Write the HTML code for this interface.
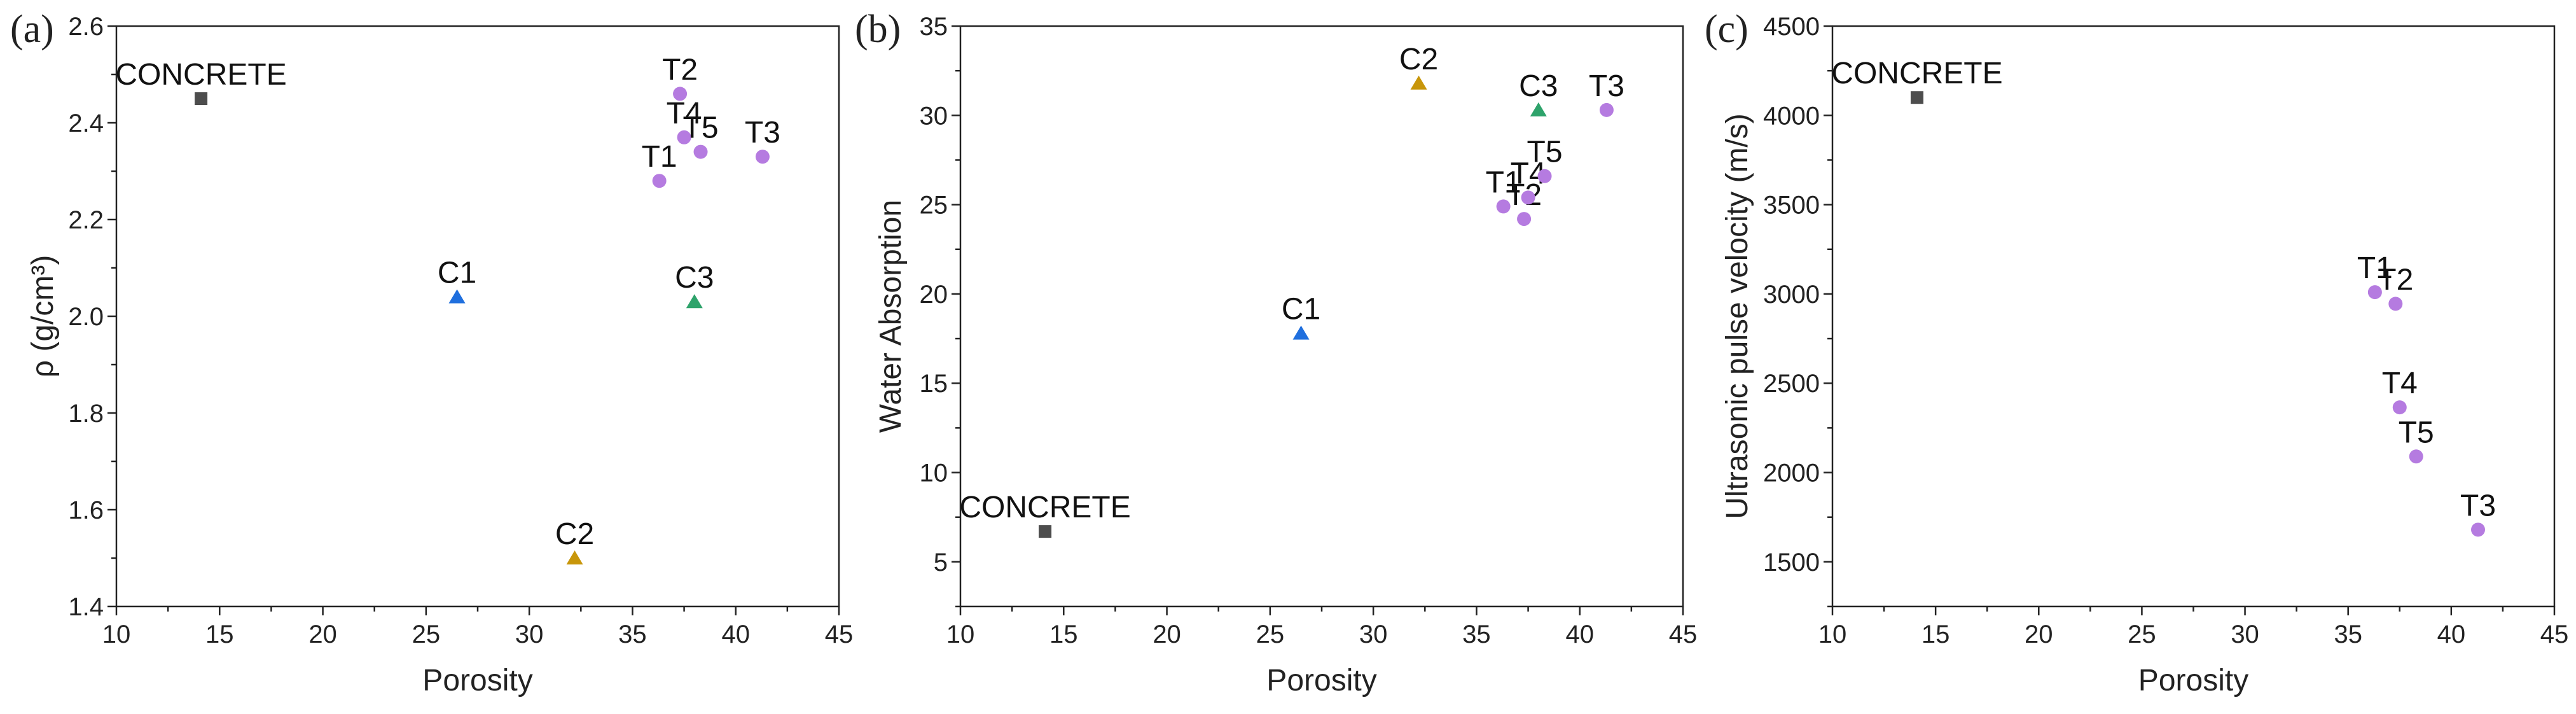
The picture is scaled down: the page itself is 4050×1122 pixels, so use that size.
<!DOCTYPE html>
<html><head><meta charset="utf-8">
<style>
html,body{margin:0;padding:0;background:#fff;}
svg{display:block;font-family:"Liberation Sans",sans-serif;}
</style></head>
<body>
<svg id="fig" width="4050" height="1122" viewBox="0 0 4050 1122" xmlns="http://www.w3.org/2000/svg"></svg>
<script>
const labels = ["CONCRETE","C1","C2","C3","T1","T2","T3","T4","T5"];
const porosity = [14.1,26.5,32.2,38.0,36.3,37.3,41.3,37.5,38.3];
const density = [2.45,2.04,1.50,2.03,2.28,2.46,2.33,2.37,2.34];
const waterAbs = [6.7,17.8,31.8,30.3,24.9,24.2,30.3,25.4,26.6];
const upvLabels = ["CONCRETE","T1","T2","T3","T4","T5"];
const upvPorosity = [14.1,36.3,37.3,41.3,37.5,38.3];
const upv = [4100,3010,2945,1680,2365,2090];
const xTicks = [10,15,20,25,30,35,40,45];
const yTicksA = ["1.4","1.6","1.8","2.0","2.2","2.4","2.6"];
const yTicksB = [5,10,15,20,25,30,35];
const yTicksC = [1500,2000,2500,3000,3500,4000,4500];

const NS="http://www.w3.org/2000/svg";
const svg=document.getElementById('fig');
function mk(tag,attrs,parent){const e=document.createElementNS(NS,tag);for(const k in attrs)e.setAttribute(k,attrs[k]);(parent||svg).appendChild(e);return e;}
function styleOf(l){
  if(l==="CONCRETE")return {shape:"sq",c:"#4d4d4d"};
  if(l==="C1")return {shape:"tri",c:"#1f6fde"};
  if(l==="C2")return {shape:"tri",c:"#c8960a"};
  if(l==="C3")return {shape:"tri",c:"#2ea36b"};
  return {shape:"dot",c:"#b57be0"};
}
function panel(cfg){
  const g=mk('g',{});
  
  
  const L=cfg.left,R=cfg.right,T=41,B=953;
  const sx=v=>L+(v-10)/(45-10)*(R-L);
  const sy=v=>B-(v-cfg.ymin)/(cfg.ymax-cfg.ymin)*(B-T);
  const frame=mk('rect',{x:L,y:T,width:R-L,height:B-T,fill:"none",stroke:"#222","stroke-width":2.5},g);
  
  
  for(let v=10;v<=45;v+=2.5){
    const major=(v%5===0);
    mk('line',{x1:sx(v),x2:sx(v),y1:B,y2:B+(major?14:8),stroke:"#222","stroke-width":2.5},g);
  }
  xTicks.forEach(v=>{
    const t=mk('text',{x:sx(v),y:1010,"text-anchor":"middle","font-size":40,fill:"#222"},g);
    t.textContent=v;
    
    
  });
  for(let v=cfg.ymin;v<=cfg.ymax+1e-9;v+=cfg.minor){
    const major=Math.abs(((v-cfg.first)/cfg.major)-Math.round((v-cfg.first)/cfg.major))<1e-6;
    mk('line',{x1:L-(major?14:8),x2:L,y1:sy(v),y2:sy(v),stroke:"#222","stroke-width":2.5},g);
  }
  cfg.yt.forEach(v=>{
    const t=mk('text',{x:L-20,y:sy(parseFloat(v))+14,"text-anchor":"end","font-size":40,fill:"#222"},g);
    t.textContent=v;
    
    
  });
  const xt=mk('text',{x:(L+R)/2,y:1085,"text-anchor":"middle","font-size":48,fill:"#222"},g);
  xt.textContent="Porosity";
  
  
  const yx=L-cfg.titleOff;
  const yt=mk('text',{x:yx,y:(T+B)/2,"text-anchor":"middle","font-size":48,fill:"#222",transform:`rotate(-90 ${yx} ${(T+B)/2})`,dy:16},g);
  yt.textContent=cfg.ytitle;
  
  
  const pl=mk('text',{x:cfg.plx,y:66,"font-family":"Liberation Serif,serif","font-size":62,fill:"#222"},g);
  pl.textContent=cfg.plabel;
  
  
  cfg.labels.forEach((l,i)=>{
    const st=styleOf(l),px=sx(cfg.xs[i]),py=sy(cfg.ys[i]);
    let m;
    if(st.shape==="sq")m=mk('rect',{x:px-10,y:py-10,width:20,height:20,fill:st.c},g);
    else if(st.shape==="tri")m=mk('polygon',{points:`${px},${py-12} ${px-13},${py+10} ${px+13},${py+10}`,fill:st.c},g);
    else m=mk('circle',{cx:px,cy:py,r:11,fill:st.c},g);
    
    
    const t=mk('text',{x:px,y:py-22,"text-anchor":"middle","font-size":48,fill:"#111"},g);
    t.textContent=l;
    
    
  });
}
panel({name:'panel-a-density',left:183,right:1319,ymin:1.4,ymax:2.6,minor:0.1,major:0.2,first:1.4,yt:yTicksA,ytitle:"ρ (g/cm³)",titleOff:116,plabel:"(a)",plx:16,labels:labels,xs:porosity,ys:density});
panel({name:'panel-b-water-absorption',left:1510,right:2646,ymin:2.5,ymax:35,minor:2.5,major:5,first:5,yt:yTicksB,ytitle:"Water Absorption",titleOff:110,plabel:"(b)",plx:1344,labels:labels,xs:porosity,ys:waterAbs});
panel({name:'panel-c-upv',left:2881,right:4016,ymin:1250,ymax:4500,minor:250,major:500,first:1500,yt:yTicksC,ytitle:"Ultrasonic pulse velocity (m/s)",titleOff:150,plabel:"(c)",plx:2680,labels:upvLabels,xs:upvPorosity,ys:upv});
</script>
</body></html>
